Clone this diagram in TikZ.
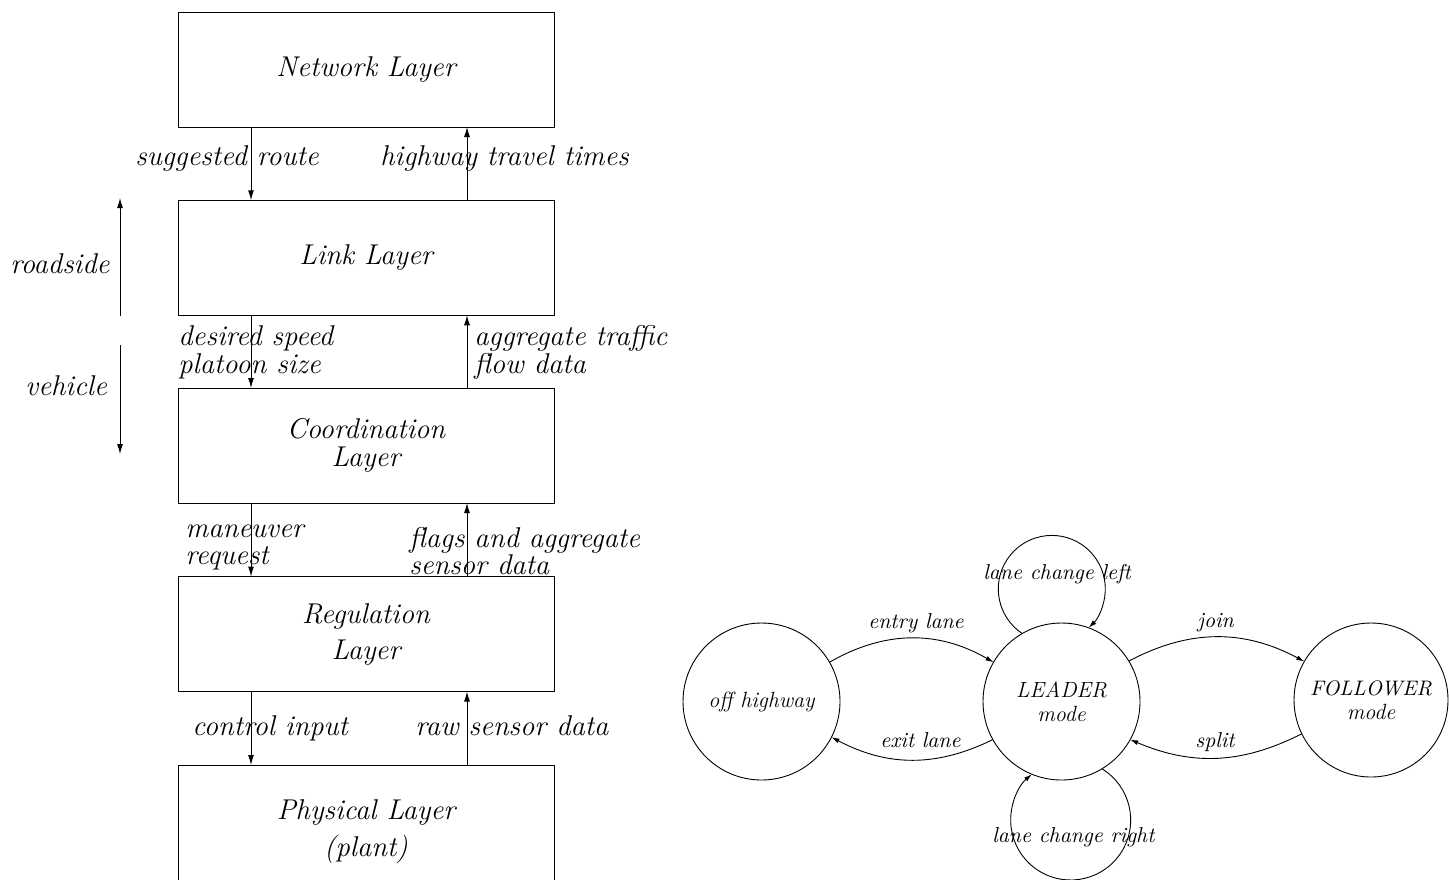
\documentclass[tikz,border=0pt]{standalone}
\usepackage{fontspec}
\usetikzlibrary{arrows.meta}
\begin{document}
\begin{tikzpicture}[x=0.5pt,y=0.5pt,
  layer/.style={draw, line width=0.5pt, minimum width=188pt, minimum height=57.5pt, inner sep=0pt, outer sep=0pt, align=center, font=\itshape\fontsize{14.3}{14}\selectfont},
  lbl/.style={anchor=base west, inner sep=0pt, font=\itshape\fontsize{14.3}{14}\selectfont},
  flow/.style={line width=0.5pt, -{Latex[length=5pt,width=3pt]}},
  state/.style={draw, circle, line width=0.45pt, minimum size=78.5pt, inner sep=0pt, outer sep=0pt, align=center, font=\itshape\fontsize{11}{12}\selectfont},
  slbl/.style={anchor=base west, inner sep=0pt, font=\itshape\fontsize{10.8}{12}\selectfont},
  trans/.style={line width=0.45pt, -{Latex[length=4pt,width=2.4pt]}},
]
\clip (0,0) rectangle (1449,-879);
% layers
\node[layer] (net) at (366,-69.5) {Network Layer};
\node[layer] (link) at (366,-257.75) {Link Layer};
\node[layer] (coord) at (366,-445.5) {Coordination\\Layer};
\node[layer] (reg) at (366,-634) {Regulation\\[4pt]Layer};
\node[layer, minimum height=66.5pt] (phys) at (366,-831.5) {Physical Layer\\[4.5pt](plant)};
% flows
\draw[flow] ([xshift=36.5pt]net.south west) -- ([xshift=36.5pt]link.north west);
\draw[flow] ([xshift=144.5pt]link.north west) -- ([xshift=144.5pt]net.south west);
\draw[flow] ([xshift=36.5pt]link.south west) -- ([xshift=36.5pt]coord.north west);
\draw[flow] ([xshift=144.5pt]coord.north west) -- ([xshift=144.5pt]link.south west);
\draw[flow] ([xshift=36.5pt]coord.south west) -- ([xshift=36.5pt]reg.north west);
\draw[flow] ([xshift=144.5pt]reg.north west) -- ([xshift=144.5pt]coord.south west);
\draw[flow] ([xshift=36.5pt]reg.south west) -- ([xshift=36.5pt]phys.north west);
\draw[flow] ([xshift=144.5pt]phys.north west) -- ([xshift=144.5pt]reg.south west);
% labels
\node[lbl] (t1) at (135,-165) {suggested route};
\node[lbl] (t2) at (380,-165) {highway travel times};
\node[lbl] (t3) at (178,-345) {desired speed};
\node[lbl] (t4) at (178,-373) {platoon size};
\node[lbl] (t5) at (474,-345) {aggregate traffic};
\node[lbl] (t6) at (474,-373) {flow data};
\node[lbl] (t7) at (185,-537) {maneuver};
\node[lbl] (t8) at (185,-564) {request};
\node[lbl] (t9) at (409,-547) {flags and aggregate};
\node[lbl] (t10) at (409,-574) {sensor data};
\node[lbl] (t11) at (192,-735) {control input};
\node[lbl] (t12) at (415,-735) {raw sensor data};
\node[lbl] (rs) at (10,-273) {roadside};
\node[lbl] (vh) at (25,-395) {vehicle};
\coordinate (rs0) at (120,-316);
\coordinate (rs1) at (120,-198);
\coordinate (vh0) at (120,-345);
\coordinate (vh1) at (120,-454);
\draw[flow] (rs0) -- (rs1);
\draw[flow] (vh0) -- (vh1);
% state diagram
\node[state] (off) at (761.5,-701.5) {off highway};
\node[state] (leader) at (1061.5,-701.5) {\raisebox{3pt}{LEADER}\\[-3pt]{\fontsize{11}{12}\selectfont mode}};
\node[state, minimum size=77pt, font=\itshape\fontsize{10.5}{12}\selectfont] (follower) at (1371,-700) {\raisebox{3pt}{FOLLOWER}\\[-3pt]{\fontsize{11}{12}\selectfont mode}};
\draw[trans] (off.30) to[bend left=30] (leader.150);
\draw[trans] (leader.209) to[bend left=27] (off.333);
\draw[trans] (leader.31.6) to[bend left=28] (follower.150.8);
\draw[trans] (follower.206) to[bend left=25] (leader.331);
\draw[trans] (leader.120.2) arc[start angle=236.5, end angle=-46.4, radius=26.75pt];
\draw[trans] (leader.-59) arc[start angle=58.6, end angle=-229.7, radius=30pt];
\node[slbl] (e1) at (868,-628) {entry lane};
\node[slbl] (e2) at (880,-747) {exit lane};
\node[slbl] (e3) at (1197,-627) {join};
\node[slbl] (e4) at (1195,-747) {split};
\node[slbl] (e5) at (983,-579) {lane change left};
\node[slbl] (e6) at (992,-842) {lane change right};
\end{tikzpicture}
\end{document}
